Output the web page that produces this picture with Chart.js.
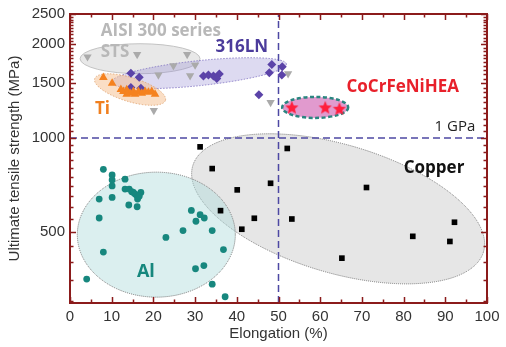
<!DOCTYPE html>
<html lang="en">
<head>
<meta charset="UTF-8">
<title>UTS vs Elongation</title>
<script src="https://cdn.jsdelivr.net/npm/chart.js"></script>
<style>
  html, body { margin: 0; padding: 0; background: #fff; }
  #wrap { width: 506px; height: 347px; }
</style>
</head>
<body>
<div id="wrap"><canvas id="chart"></canvas></div>
<script>
// elongation (%) and ultimate tensile strength (MPa), one pair of arrays per alloy family
const copperElong = [31.2, 34.1, 40.1, 48.1, 36.1, 44.2, 41.2, 52.1, 53.2, 71.1, 65.2, 82.2, 92.2, 91.1];
const copperUts   = [936, 797, 681, 715, 584, 552, 509, 925, 549, 693, 411, 483, 536, 465];

const alElong = [8.0, 10.1, 10.1, 10.1, 13.2, 13.2, 14.2, 15.2, 16.0, 17.0, 16.2, 16.1, 14.1, 10.1, 7.0,
                 7.0, 8.0, 4.0, 23.0, 27.1, 29.1, 30.2, 31.2, 32.2, 34.1, 36.8, 30.1, 32.1, 34.1, 37.2,
                 14.8, 15.6, 16.6];
const alUts   = [793, 760, 733, 701, 737, 685, 685, 668, 655, 668, 636, 601, 609, 644, 636,
                 553, 430, 352, 479, 504, 585, 540, 567, 553, 504, 438, 380, 389, 339, 309,
                 672, 660, 650];

const tiElong = [8.0, 10.1, 12.8, 13.6, 14.4, 15.2, 16.4, 17.2, 18.0, 18.8, 19.6, 20.4, 13.6, 15.6, 12.2];
const tiUts   = [1562, 1497, 1409, 1427, 1392, 1409, 1409, 1392, 1409, 1402, 1409, 1381, 1381, 1381, 1430];

const lnElong = [14.6, 16.6, 14.6, 17.0, 32.0, 33.2, 34.4, 35.8, 35.2, 48.4, 47.8, 50.9, 50.8, 45.3];
const lnUts   = [1612, 1565, 1451, 1443, 1581, 1593, 1581, 1605, 1553, 1722, 1620, 1693, 1593, 1375];

const stsElong = [4.2, 16.1, 28.1, 24.8, 30.0, 21.2, 28.8, 20.1, 48.1, 52.3];
const stsUts   = [1822, 1853, 1853, 1705, 1714, 1593, 1585, 1226, 1300, 1607];

const heaElong = [53.2, 61.2, 64.6];
const heaUts   = [1253, 1253, 1241];

// 1 GPa and 50 % guide lines
const gpaLine = [1000];
const elongLine = [50];

const xTicks = [0, 10, 20, 30, 40, 50, 60, 70, 80, 90, 100];
const yTicks = [500, 1000, 1500, 2000, 2500];
const yMin = 295, yMax = 2500;

const zip = (xs, ys) => xs.map((x, i) => ({ x: x, y: ys[i] }));

// group outlines: centre in data units, radii in px
const regions = [
  { x: 16.8, y: 1796, rx: 60, ry: 15, rot: 0, fill: 'rgba(205,205,205,0.45)', stroke: 'rgba(190,190,190,0.9)', dash: [], lw: 1 },
  { x: 30.9, y: 1614, rx: 88, ry: 12.5, rot: -6, fill: 'rgba(150,140,210,0.32)', stroke: 'rgba(120,105,190,0.8)', dash: [1.5, 1.5], lw: 1 },
  { x: 14.4, y: 1430, rx: 37, ry: 12, rot: 17, fill: 'rgba(246,190,140,0.5)', stroke: 'rgba(225,165,115,0.9)', dash: [1.5, 1.5], lw: 1 },
  { x: 64.3, y: 592, rx: 151.6, ry: 64.1, rot: 16.5, fill: 'rgba(200,200,200,0.45)', stroke: '#777', dash: [1, 1], lw: 1 },
  { x: 20.7, y: 489, rx: 79, ry: 62.5, rot: 0, fill: 'rgba(175,220,220,0.45)', stroke: '#777', dash: [1, 1], lw: 1 },
  { x: 58.8, y: 1253, rx: 33, ry: 10.5, rot: 0, fill: 'rgba(215,120,190,0.75)', stroke: '#2a8580', dash: [4, 2.5], lw: 2.5 }
];

const labels = [
  { text: 'AISI 300 series', x: 21.8, y: 2205, color: '#b8b8b8' },
  { text: 'STS', x: 10.8, y: 1890, color: '#b8b8b8' },
  { text: '316LN', x: 41.2, y: 1961, color: '#4b3b9b' },
  { text: 'Ti', x: 7.8, y: 1235, color: '#f07f1e' },
  { text: 'CoCrFeNiHEA', x: 79.8, y: 1451, color: '#e8202a' },
  { text: 'Copper', x: 87.3, y: 800, color: '#111' },
  { text: 'Al', x: 18.2, y: 371, color: '#16877d', size: 18 },
  { text: '1 GPa', x: 92.3, y: 1084, color: '#222', bold: false, size: 15 }
];

function starImage(r, fill) {
  const c = document.createElement('canvas');
  c.width = c.height = Math.ceil(r * 2 + 2);
  const g = c.getContext('2d');
  const cx = c.width / 2, cy = c.height / 2 + 0.5;
  g.beginPath();
  for (let i = 0; i < 10; i++) {
    const a = -Math.PI / 2 + i * Math.PI / 5;
    const rr = i % 2 ? r * 0.45 : r;
    g.lineTo(cx + rr * Math.cos(a), cy + rr * Math.sin(a));
  }
  g.closePath();
  g.fillStyle = fill;
  g.fill();
  return c;
}

const regionPlugin = {
  id: 'regions',
  beforeDatasetsDraw(chart) {
    const { ctx, chartArea: a, scales } = chart;
    ctx.save();
    ctx.beginPath();
    ctx.rect(a.left, a.top, a.right - a.left, a.bottom - a.top);
    ctx.clip();
    regions.forEach(e => {
      const px = scales.x.getPixelForValue(e.x);
      const py = scales.y.getPixelForValue(e.y);
      ctx.beginPath();
      ctx.ellipse(px, py, e.rx, e.ry, e.rot * Math.PI / 180, 0, Math.PI * 2);
      ctx.fillStyle = e.fill;
      ctx.fill();
      ctx.setLineDash(e.dash);
      ctx.lineWidth = e.lw;
      ctx.strokeStyle = e.stroke;
      ctx.stroke();
    });
    ctx.restore();
  }
};

// maroon box with inward ticks on all four sides, plus text labels
const framePlugin = {
  id: 'frame',
  afterDatasetsDraw(chart) {
    const { ctx, chartArea: a, scales } = chart;
    ctx.save();
    labels.forEach(l => {
      const size = l.size || 17;
      ctx.font = (l.bold === false ? '' : 'bold ') + size + 'px "Open Sans", sans-serif';
      ctx.fillStyle = l.color;
      ctx.textAlign = 'center';
      ctx.textBaseline = 'middle';
      ctx.fillText(l.text, scales.x.getPixelForValue(l.x), scales.y.getPixelForValue(l.y));
    });

    ctx.strokeStyle = '#8b1b1b';
    ctx.lineWidth = 1.5;
    ctx.beginPath();
    for (let v = 0; v <= 100; v += 5) {
      const x = Math.round(scales.x.getPixelForValue(v)) + 0.5;
      const len = v % 10 === 0 ? 6 : 3.5;
      ctx.moveTo(x, a.bottom); ctx.lineTo(x, a.bottom - len);
      ctx.moveTo(x, a.top); ctx.lineTo(x, a.top + len);
    }
    for (let v = 300; v <= yMax; v += 50) {
      const y = Math.round(scales.y.getPixelForValue(v)) + 0.5;
      const len = v % 500 === 0 ? 6 : 3.5;
      ctx.moveTo(a.left, y); ctx.lineTo(a.left + len, y);
      ctx.moveTo(a.right, y); ctx.lineTo(a.right - len, y);
    }
    ctx.stroke();
    ctx.lineWidth = 2;
    ctx.strokeRect(a.left, a.top, a.right - a.left, a.bottom - a.top);
    ctx.restore();
  }
};

const guideStyle = {
  showLine: true, pointRadius: 0, borderColor: '#4d48a3', borderWidth: 1.5,
  borderDash: [7, 4], order: 10
};

new Chart(document.getElementById('chart'), {
  type: 'scatter',
  data: {
    datasets: [
      { label: 'Copper', data: zip(copperElong, copperUts), pointStyle: 'rect', pointRadius: 4,
        backgroundColor: '#000', borderColor: '#000', borderWidth: 0 },
      { label: 'Al', data: zip(alElong, alUts), pointStyle: 'circle', pointRadius: 3.4,
        backgroundColor: '#17877e', borderColor: '#17877e', borderWidth: 0 },
      { label: 'Ti', data: zip(tiElong, tiUts), pointStyle: 'triangle', pointRadius: 5,
        backgroundColor: '#f5821f', borderColor: '#f5821f', borderWidth: 0 },
      { label: '316LN', data: zip(lnElong, lnUts), pointStyle: 'rectRot', pointRadius: 4.5,
        backgroundColor: '#5b43a8', borderColor: '#5b43a8', borderWidth: 0 },
      { label: 'AISI 300 series STS', data: zip(stsElong, stsUts), pointStyle: 'triangle', pointRotation: 180,
        pointRadius: 4.8, backgroundColor: '#aaaaaa', borderColor: '#aaaaaa', borderWidth: 0 },
      { label: 'CoCrFeNiHEA', data: zip(heaElong, heaUts), pointStyle: starImage(7, '#ff1f3d'), order: -1 },
      Object.assign({ label: '1 GPa', data: [{ x: 0, y: gpaLine[0] }, { x: 100, y: gpaLine[0] }] }, guideStyle),
      Object.assign({ label: '50 %', data: [{ x: elongLine[0], y: yMin }, { x: elongLine[0], y: yMax }] }, guideStyle)
    ]
  },
  options: {
    responsive: true,
    maintainAspectRatio: false,
    animation: false,
    layout: { padding: { left: 0, right: 19, top: 11, bottom: 0 } },
    plugins: { legend: { display: false }, tooltip: { enabled: false } },
    scales: {
      x: {
        type: 'linear', min: 0, max: 100,
        afterBuildTicks: s => { s.ticks = xTicks.map(v => ({ value: v })); },
        afterFit: s => { s.height = 44; },
        grid: { display: false, drawTicks: false },
        border: { display: false },
        ticks: { padding: 5, color: '#333', font: { family: 'Liberation Sans', size: 15 }, autoSkip: false, maxRotation: 0 },
        title: { display: true, text: 'Elongation (%)', color: '#333', padding: { top: 2, bottom: 4 },
                 font: { family: 'Liberation Sans', size: 15 } }
      },
      y: {
        type: 'logarithmic', min: yMin, max: yMax,
        afterBuildTicks: s => { s.ticks = yTicks.map(v => ({ value: v })); },
        afterFit: s => { s.width = 70; },
        grid: { display: false, drawTicks: false },
        border: { display: false },
        ticks: { padding: 5, color: '#333', font: { family: 'Liberation Sans', size: 15 }, autoSkip: false,
                 callback: v => String(v) },
        title: { display: true, text: 'Ultimate tensile strength (MPa)', color: '#333', padding: { top: 6, bottom: 0 },
                 font: { family: 'Liberation Sans', size: 15 } }
      }
    }
  },
  plugins: [regionPlugin, framePlugin]
});
</script>
</body>
</html>
